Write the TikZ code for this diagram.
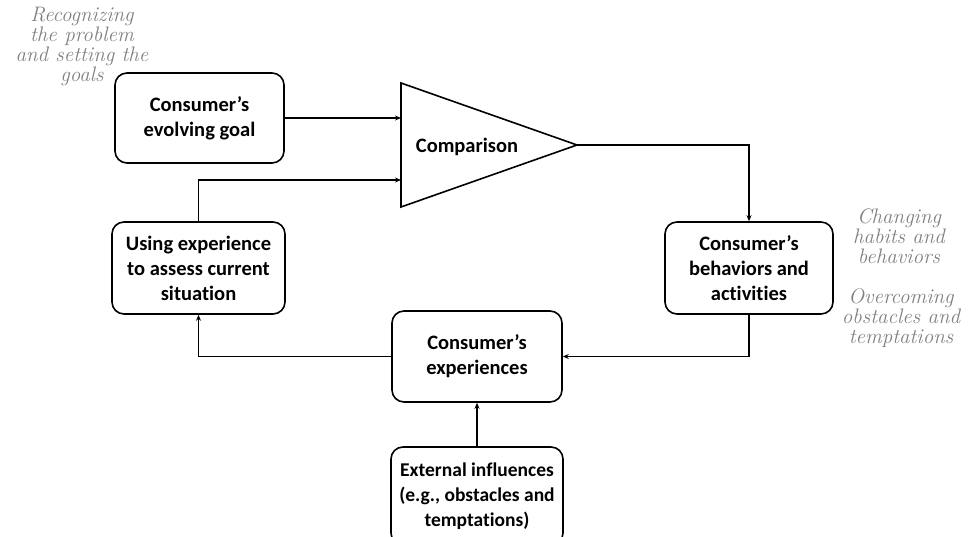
\documentclass[tikz,border=0pt]{standalone}
\usepackage{fontspec}
\setmainfont[Ligatures=NoCommon]{Carlito}
\usetikzlibrary{arrows.meta}
\begin{document}
\begin{tikzpicture}[x=1pt,y=-1pt,
  box/.style={draw,line width=1.6pt,rounded corners=12pt,align=center,font=\bfseries\fontsize{20.5}{25}\selectfont,inner sep=0pt},
  conn/.style={line width=1.5pt,-{Stealth[length=6pt,width=5pt]}},
  note/.style={align=center,text=black!50,font=\fontfamily{lmr}\itshape\fontsize{21}{20}\selectfont}]
\useasboundingbox (0,0) rectangle (970,537);
\clip (0,0) rectangle (970,537);
\node[box,minimum width=169pt,minimum height=90pt] (goal) at (199.5,118) {Consumer’s\\evolving goal};
\node[box,minimum width=173pt,minimum height=92pt] (use) at (198.5,268) {Using experience\\to assess current\\situation};
\node[box,minimum width=168pt,minimum height=92pt] (beh) at (749,268) {Consumer’s\\behaviors and\\activities};
\node[box,minimum width=170pt,minimum height=91pt] (exp) at (477,356.5) {Consumer’s\\experiences};
\node[box,minimum width=172pt,minimum height=98pt,font=\bfseries\fontsize{19.5}{25}\selectfont] (ext) at (477,496) {External influences\\(e.g., obstacles and\\temptations)};
\draw[line width=1.6pt,line join=miter] (401,83) -- (577,145) -- (401,207) -- cycle;
\coordinate (cin1) at (401,118);
\coordinate (cin2) at (401,180);
\coordinate (cout) at (577,145);
\node[font=\bfseries\fontsize{20.5}{25}\selectfont] (cmp) at (467,147) {Comparison};
\draw[conn] (goal.east |- cin1) -- (cin1);
\draw[conn] (use.north) |- (cin2);
\draw[conn] (cout) -| (beh.north);
\draw[conn] (beh.south) |- (exp.east);
\draw[conn] (exp.west) -| (use.south);
\draw[conn] (ext.north) -- (exp.south);
\node[note] (n1) at (82,46) {Recognizing\\the problem\\and setting the\\goals};
\node[note] (n2) at (899,236) {Changing\\habits and\\behaviors};
\node[note] (n3) at (901,318) {Overcoming\\obstacles and\\temptations};
\end{tikzpicture}
\end{document}
